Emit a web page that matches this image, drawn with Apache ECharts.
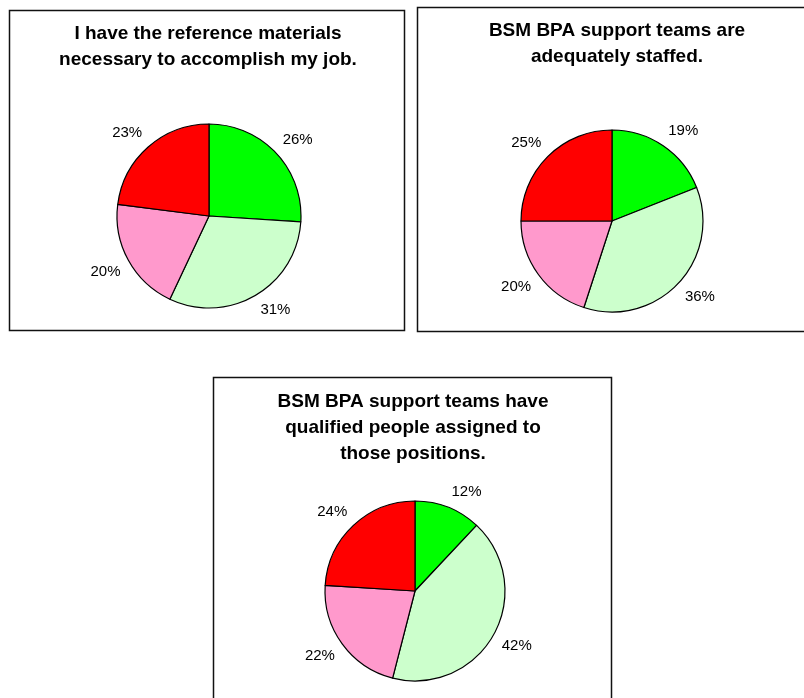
<!DOCTYPE html>
<html>
<head>
<meta charset="utf-8">
<script src="https://cdn.jsdelivr.net/npm/echarts@6/dist/echarts.min.js"></script>
<style>
  html, body { margin: 0; padding: 0; background: #fff; }
  #chart { width: 804px; height: 698px; }
</style>
</head>
<body>
<div id="chart"></div>
<script>
// survey answers, clockwise from 12 o'clock
const categories = ['Strongly agree', 'Agree', 'Disagree', 'Strongly disagree'];
const sliceColors = ['#00ff00', '#ccffcc', '#ff99cc', '#ff0000'];

const titles = [
  'I have the reference materials\nnecessary to accomplish my job.',
  'BSM BPA support teams are\nadequately staffed.',
  'BSM BPA support teams have\nqualified people assigned to\nthose positions.'
];
const referenceValues = [26, 31, 20, 23];
const staffedValues = [19, 36, 20, 25];
const qualifiedValues = [12, 42, 22, 24];
const allValues = [referenceValues, staffedValues, qualifiedValues];

// layout of the three panels
const panels = [
  { box: [9, 10, 395, 320], titleX: 208, titleY: 21, center: [209, 216], r: 92 },
  { box: [417, 7, 400, 324], titleX: 617, titleY: 18, center: [612, 221], r: 91 },
  { box: [213, 377, 398, 340], titleX: 413, titleY: 389, center: [415, 591], r: 90 }
];
const labelGap = 9;

const chart = echarts.init(document.getElementById('chart'));

const toData = (vals) => vals.map((v, i) => ({
  name: categories[i],
  value: v,
  itemStyle: { color: sliceColors[i] }
}));

// move each label just outside its slice, box corner next to the edge (excel style)
const pushOut = (p) => (params) => {
  const rc = params.labelRect;
  let dx = rc.x + rc.width / 2 - p.center[0];
  let dy = rc.y + rc.height / 2 - p.center[1];
  const len = Math.hypot(dx, dy) || 1;
  dx /= len;
  dy /= len;
  const d = p.r + labelGap;
  return {
    x: p.center[0] + dx * d + Math.sign(dx) * rc.width / 2,
    y: p.center[1] + dy * d + Math.sign(dy) * 7,
    align: 'center',
    verticalAlign: 'middle'
  };
};

const series = panels.map((p, k) => ({
  type: 'pie',
  center: p.center,
  radius: p.r,
  startAngle: 90,
  clockwise: true,
  silent: true,
  animation: false,
  label: {
    show: true,
    position: 'inside',
    formatter: '{c}%',
    color: '#000',
    fontFamily: 'Liberation Sans, Arial, sans-serif',
    fontSize: 15
  },
  labelLine: { show: false },
  labelLayout: pushOut(p),
  itemStyle: { borderColor: '#000', borderWidth: 1.2 },
  data: toData(allValues[k])
}));

const option = {
  backgroundColor: '#fff',
  animation: false,
  title: panels.map((p, k) => ({
    text: titles[k],
    left: p.titleX,
    top: p.titleY,
    padding: 0,
    textAlign: 'center',
    textStyle: {
      fontFamily: 'Liberation Sans, Arial, sans-serif',
      fontWeight: 'bold',
      fontSize: 19,
      lineHeight: 26,
      color: '#000'
    }
  })),
  graphic: panels.map(p => ({
    type: 'rect',
    silent: true,
    z: -1,
    shape: { x: p.box[0] + 0.5, y: p.box[1] + 0.5, width: p.box[2], height: p.box[3] },
    style: { fill: 'none', stroke: '#111', lineWidth: 1.5 }
  })),
  series: series
};

chart.setOption(option);
</script>
</body>
</html>
